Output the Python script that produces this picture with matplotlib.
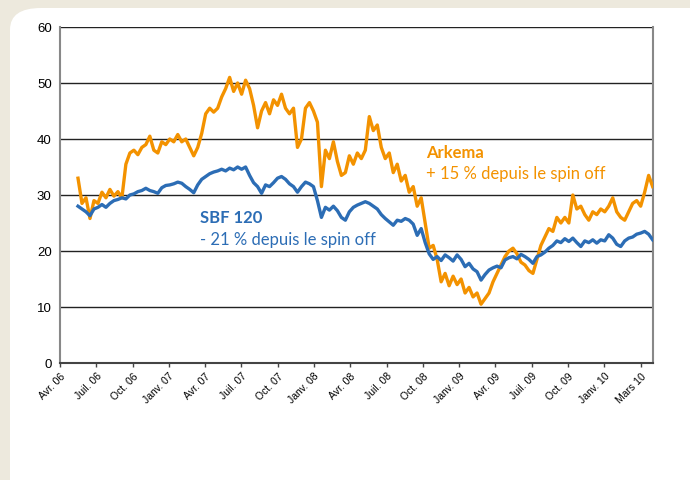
import numpy as np
import matplotlib
matplotlib.use("Agg")
import matplotlib.pyplot as plt
from matplotlib.patches import FancyBboxPatch

# Quarter tick labels (equally spaced on the original chart)
tick_labels = ["Avr. 06", "Juil. 06", "Oct. 06", "Janv. 07", "Avr. 07", "Juil. 07",
               "Oct. 07", "Janv. 08", "Avr. 08", "Juil. 08", "Oct. 08", "Janv. 09",
               "Avr. 09", "Juil. 09", "Oct. 09", "Janv. 10", "Mars 10"]

# Weekly-ish readings, mid-May 2006 -> end of March 2010
arkema = [33, 28.5, 29.5, 25.8, 29, 28.5, 30.5, 29.5, 31, 29.8, 30.6, 29.5,
          35.5, 37.5, 38, 37.2, 38.5, 39, 40.5, 38, 37.5, 39.5, 39, 40,
          39.5, 40.8, 39.5, 40, 38.5, 37, 38.5, 41, 44.5, 45.5, 44.8, 45.5,
          47.5, 49, 51, 48.5, 50, 48, 50.5, 49, 46, 42, 45, 46.5,
          44.5, 47, 46, 48, 45.5, 44.5, 45.5, 38.5, 40, 45.5, 46.5, 45,
          43, 31.5, 38, 36.5, 39.5, 36, 33.5, 34, 37, 35.5, 37.5, 36.5,
          38, 44, 41.5, 42.5, 38.5, 36.5, 37.5, 34, 35.5, 32.5, 33.5, 30.5,
          31.5, 28, 29.5, 25, 20.5, 21, 18.5, 14.5, 16, 13.8, 15.5, 14,
          15, 12.5, 13.5, 11.8, 12.5, 10.5, 11.5, 12.5, 14.5, 16, 17.5, 19,
          20, 20.5, 19.5, 18, 17.5, 16.5, 16, 18.5, 21, 22.5, 24, 23.5,
          26, 25, 26, 25, 30, 27.5, 28, 26.5, 25.5, 27, 26.5, 27.5,
          27, 28, 29.5, 27, 26, 25.5, 27, 28.5, 29, 28, 30.5, 33.5, 31.5]

sbf120 = [28, 27.5, 27, 26.3, 27.5, 27.8, 28.3, 27.8, 28.5, 29, 29.2, 29.5,
          29.3, 30, 30.2, 30.6, 30.8, 31.2, 30.8, 30.6, 30.3, 31.3, 31.7, 31.8,
          32, 32.3, 32.1, 31.5, 31, 30.4, 31.8, 32.8, 33.3, 33.8, 34.1, 34.3,
          34.6, 34.3, 34.8, 34.5, 35, 34.6, 35, 33.5, 32.2, 31.5, 30.3, 31.8,
          31.5, 32.2, 33, 33.3, 32.8, 32, 31.5, 30.5, 31.5, 32.3, 32, 31.5,
          29, 26, 27.8, 27.3, 28, 27.2, 26, 25.5, 27, 27.8, 28.2, 28.5,
          28.8, 28.5, 28, 27.5, 26.5, 25.8, 25.2, 24.6, 25.5, 25.3, 25.8, 25.5,
          24.8, 22.8, 24, 21.5, 19.5, 18.5, 19, 18.3, 19.3, 18.8, 18.2, 19.3,
          18.5, 17.2, 17.8, 16.8, 16.3, 14.8, 15.8, 16.6, 17, 17.3, 17, 18.4,
          18.8, 19, 18.6, 19.4, 19, 18.5, 17.8, 19, 19.3, 19.8, 20.5, 21,
          21.8, 21.5, 22.2, 21.7, 22.3, 21.5, 20.8, 21.8, 21.5, 22, 21.4, 22,
          21.8, 22.9, 22.3, 21.2, 20.8, 21.8, 22.3, 22.5, 23, 23.2, 23.5, 23, 22]

orange = "#F39200"
blue = "#2C6DB5"

fig = plt.figure(figsize=(6.9, 4.8), dpi=100)
fig.patch.set_facecolor("#EDE9DD")

# white rounded panel behind the chart
panel = FancyBboxPatch((10 / 690, -0.1), 1.2, 1.1 - 8 / 480,
                       boxstyle="round,pad=0,rounding_size=0.045",
                       transform=fig.transFigure, facecolor="white",
                       edgecolor="none", zorder=-5)
fig.patches.append(panel)

ax = fig.add_axes([60 / 690, 117 / 480, 593 / 690, 336 / 480])
ax.set_zorder(2)
ax.set_facecolor("white")

x = np.linspace(0.496, 16.33, len(arkema))
ax.plot(x, arkema, color=orange, lw=2.4, zorder=3)
ax.plot(x, sbf120, color=blue, lw=2.4, zorder=4)

ax.set_xlim(0, 16.34)
ax.set_ylim(0, 60)
ax.set_yticks(range(0, 61, 10))
ax.yaxis.grid(True, color="#222222", lw=1.0)
ax.set_axisbelow(True)
ax.tick_params(axis="y", length=0, labelsize=9.5, pad=6)

ax.set_xticks(range(len(tick_labels)))
ax.set_xticklabels(tick_labels, rotation=45, ha="right", va="top",
                   rotation_mode="anchor", fontsize=7.5)
ax.tick_params(axis="x", length=3, width=1, color="#444444", pad=3)

for s in ["left", "right"]:
    ax.spines[s].set_color("#888888")
    ax.spines[s].set_linewidth(1.5)
ax.spines["bottom"].set_color("#444444")
ax.spines["bottom"].set_linewidth(1.5)
ax.spines["top"].set_visible(False)

for lab in ax.get_xticklabels() + ax.get_yticklabels():
    lab.set_family("Liberation Sans")

txt = dict(family="Lato", fontsize=12)
ax.text(10.09, 36.6, "Arkema", color=orange, fontweight="bold", **txt)
ax.text(10.09, 32.9, "+ 15 % depuis le spin off", color=orange, **txt)
ax.text(3.86, 25.0, "SBF 120", color=blue, fontweight="bold", **txt)
ax.text(3.86, 21.1, "- 21 % depuis le spin off", color=blue, **txt)

fig.savefig("out.png", dpi=100, facecolor=fig.get_facecolor())
